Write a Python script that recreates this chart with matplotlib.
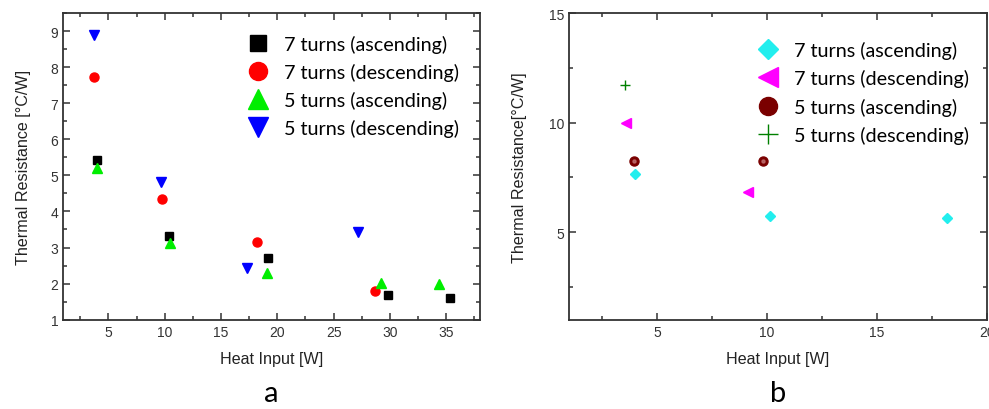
import matplotlib.pyplot as plt
from matplotlib.ticker import MultipleLocator

# panel a data
sq_x = [4.0, 10.4, 19.2, 29.8, 35.3]
sq_y = [5.42, 3.31, 2.70, 1.69, 1.59]
circ_x = [3.7, 9.8, 18.2, 28.7]
circ_y = [7.73, 4.35, 3.16, 1.79]
up_x = [4.0, 10.5, 19.1, 29.2, 34.4]
up_y = [5.2, 3.12, 2.29, 2.01, 1.99]
down_x = [3.7, 9.7, 17.3, 27.2]
down_y = [8.9, 4.81, 2.43, 3.44]

# panel b data
dia_x = [3.98, 10.15, 18.2]
dia_y = [7.66, 5.74, 5.64]
left_x = [3.6, 9.15]
left_y = [10.0, 6.85]
ball_x = [3.94, 9.82]
ball_y = [8.25, 8.25]
plus_x = [3.53]
plus_y = [11.73]

labels = ['7 turns (ascending)', '7 turns (descending)',
          '5 turns (ascending)', '5 turns (descending)']

plt.rcParams['font.family'] = 'Liberation Sans'

fig = plt.figure(figsize=(9.89, 4.10), dpi=100)
W, H = 989, 410
ax1 = fig.add_axes([63.3 / W, (H - 320.7) / H, 416.7 / W, 306.7 / H])
ax2 = fig.add_axes([569.3 / W, (H - 320.7) / H, 417.4 / W, 306.7 / H])

ax1.plot(sq_x, sq_y, 's', color='black', ms=5.5, label=labels[0])
ax1.plot(circ_x, circ_y, 'o', color='red', ms=6.5, label=labels[1])
ax1.plot(up_x, up_y, '^', color='#00ee00', ms=7, label=labels[2])
ax1.plot(down_x, down_y, 'v', color='blue', ms=7, label=labels[3])

ax2.plot(dia_x, dia_y, 'D', color='#22eeee', ms=5, label=labels[0])
ax2.plot(left_x, left_y, '<', color='#ff00ff', ms=7, label=labels[1])
ax2.plot(ball_x, ball_y, 'o', color='#7a0000', ms=6.5, label=labels[2])
ax2.plot(ball_x, ball_y, 'o', color='#c07070', ms=2.2, alpha=0.8)
ax2.plot(plus_x, plus_y, '+', color='green', ms=7, mew=1, label=labels[3])

ax1.set_xlim(1, 38)
ax1.set_ylim(1, 9.5)
ax1.xaxis.set_major_locator(MultipleLocator(5))
ax1.xaxis.set_minor_locator(MultipleLocator(2.5))
ax1.yaxis.set_major_locator(MultipleLocator(1))
ax1.yaxis.set_minor_locator(MultipleLocator(0.5))

ax2.set_xlim(1, 20)
ax2.set_ylim(1, 15)
ax2.xaxis.set_major_locator(MultipleLocator(5))
ax2.xaxis.set_minor_locator(MultipleLocator(2.5))
ax2.yaxis.set_major_locator(MultipleLocator(5))
ax2.yaxis.set_minor_locator(MultipleLocator(2.5))

leg_pos = [(0.434, 0.93), (0.443, 0.908)]
for ax, pos in zip((ax1, ax2), leg_pos):
    ax.tick_params(which='both', direction='in', top=True, right=True,
                   width=1.1, color='#333333')
    ax.tick_params(which='major', length=5, labelsize=10, labelcolor='#333333')
    ax.tick_params(which='minor', length=3)
    for sp in ax.spines.values():
        sp.set_linewidth(1.3)
        sp.set_color('#333333')
    ax.set_xlabel('Heat Input [W]', fontsize=11.6, labelpad=9, color='#222222')
    ax.legend(loc='upper left', bbox_to_anchor=pos, frameon=False, markerscale=2,
              prop={'family': 'Lato', 'size': 14.2}, handlelength=1.4,
              handletextpad=0.6, labelspacing=0.51, borderpad=0, borderaxespad=0)

ax1.set_ylabel('Thermal Resistance [°C/W]', fontsize=11.6, labelpad=14, color='#222222')
ax2.set_ylabel('Thermal Resistance[°C/W]', fontsize=11.6, labelpad=16, color='#222222')

fig.text(271 / W, (H - 402) / H, 'a', fontsize=21, ha='center', va='baseline',
         family='Lato')
fig.text(778 / W, (H - 402) / H, 'b', fontsize=21, ha='center', va='baseline',
         family='Lato')

fig.savefig('out.png', dpi=100)
